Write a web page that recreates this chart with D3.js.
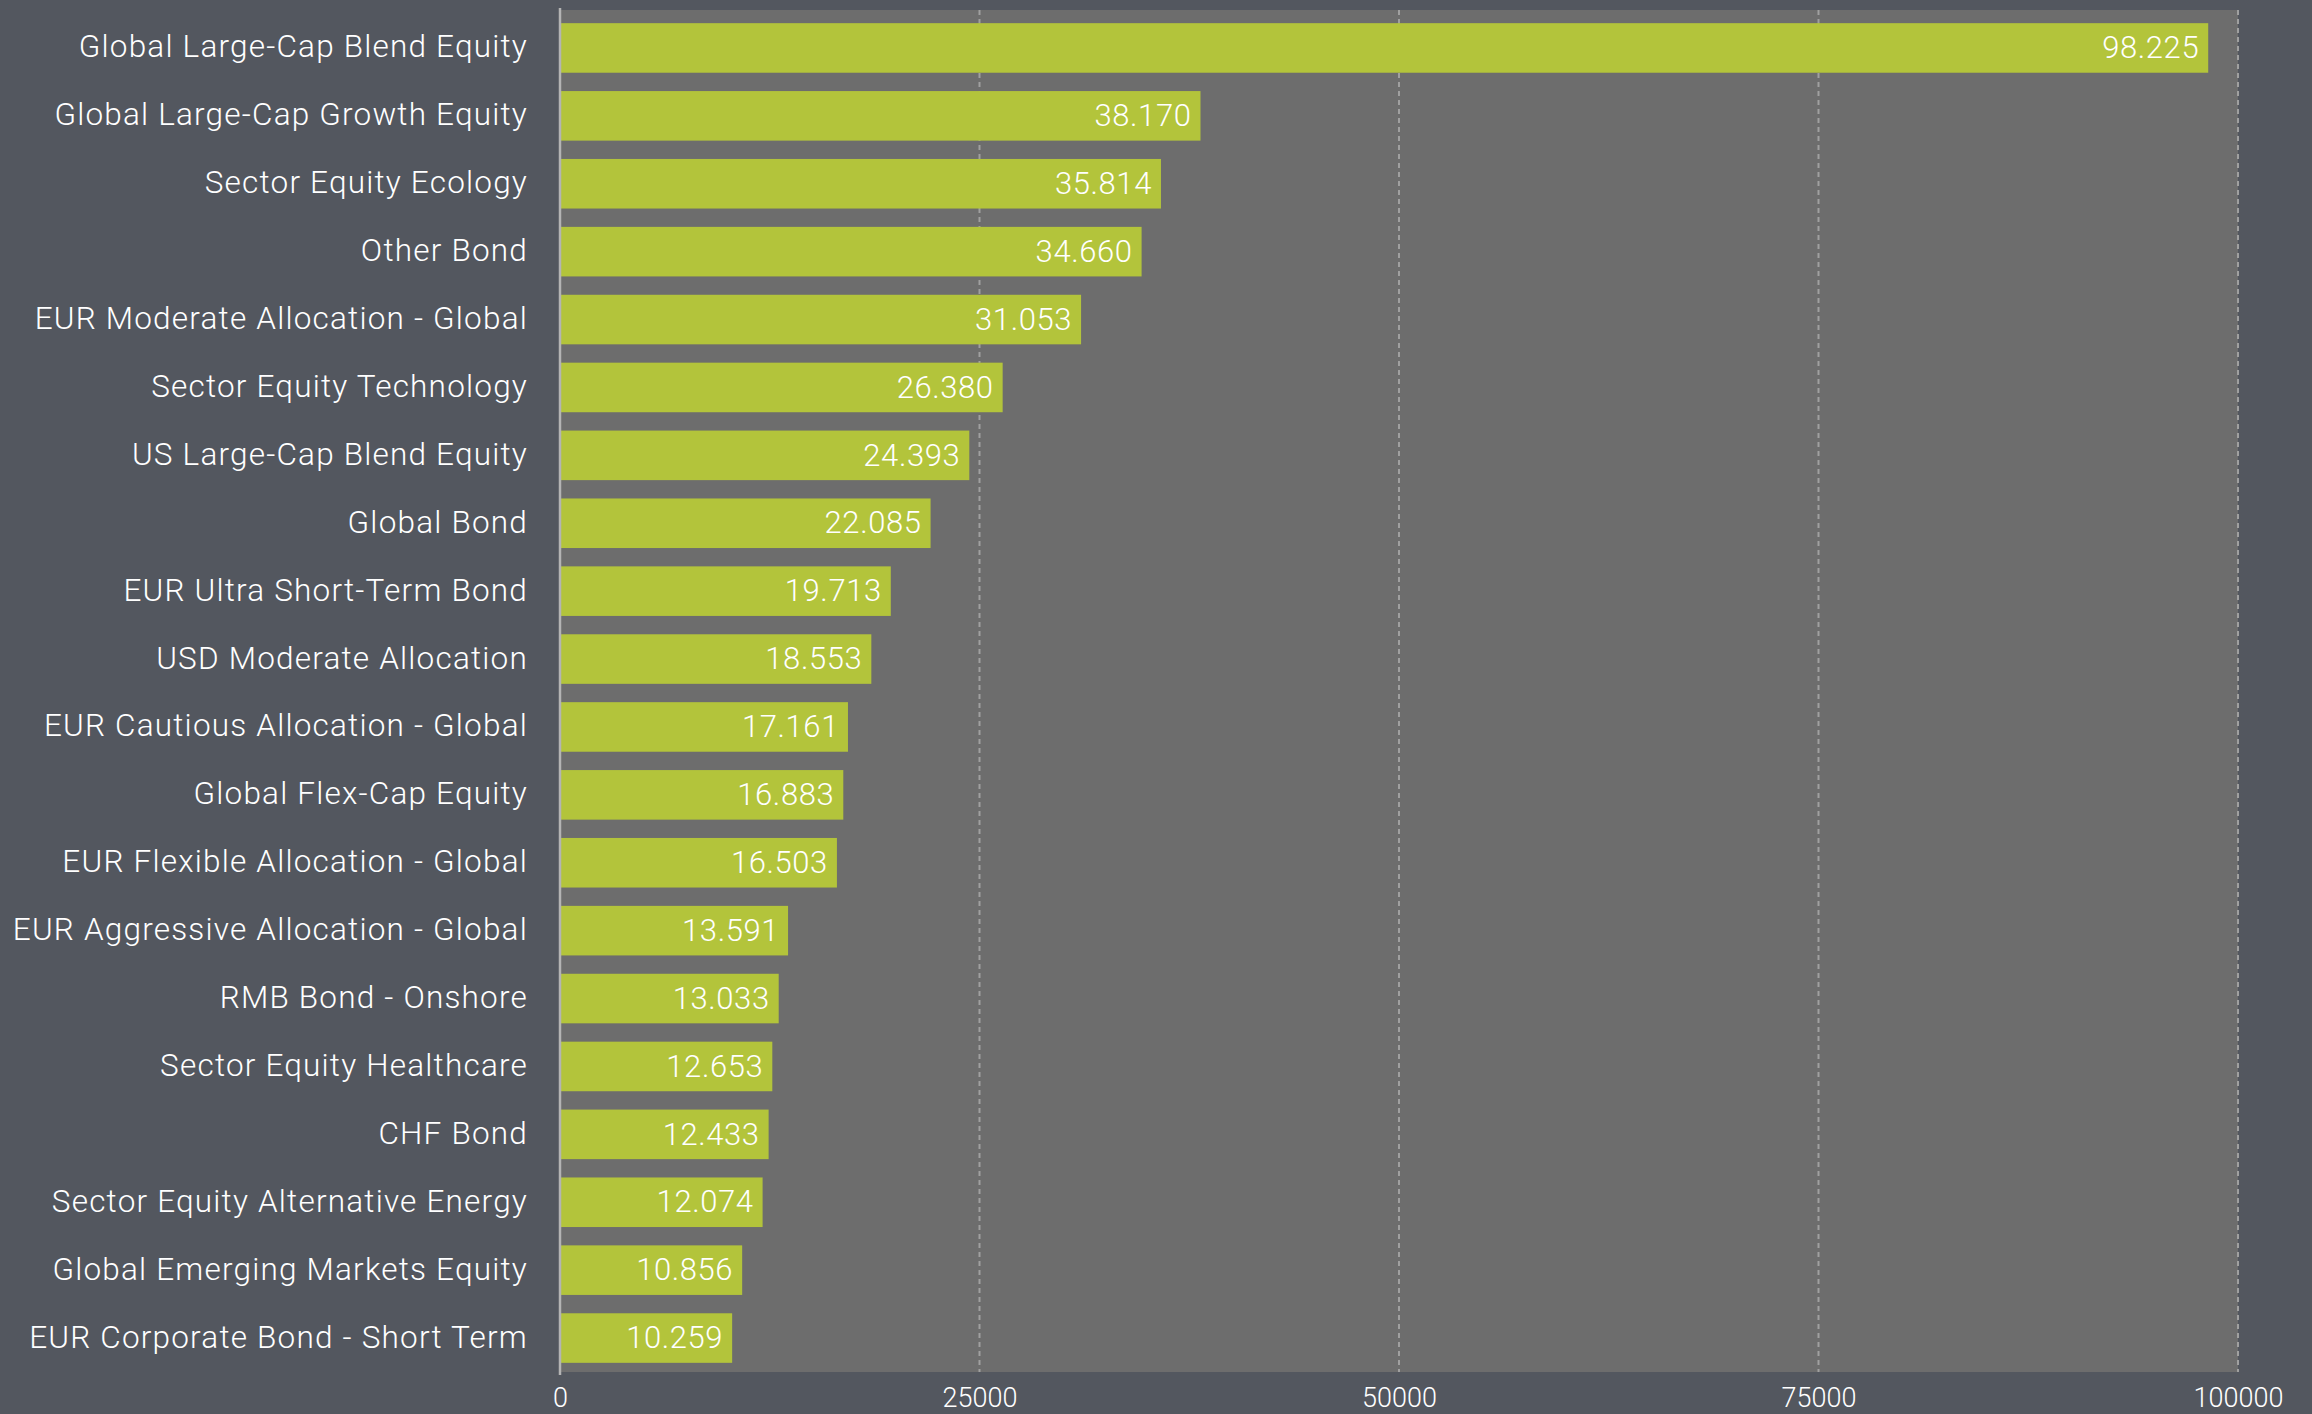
<!DOCTYPE html>
<html>
<head>
<meta charset="utf-8">
<script src="https://cdn.jsdelivr.net/npm/d3@7"></script>
<style>
  html, body { margin: 0; padding: 0; background: #53575f; }
  svg { display: block; }
  text { font-family: "Helvetica Neue", Roboto, "Liberation Sans", sans-serif; font-weight: 300; fill: #ffffff; }
</style>
</head>
<body>
<svg id="chart" width="2312" height="1414"></svg>
<script>
const categories = [
  "Global Large-Cap Blend Equity",
  "Global Large-Cap Growth Equity",
  "Sector Equity Ecology",
  "Other Bond",
  "EUR Moderate Allocation - Global",
  "Sector Equity Technology",
  "US Large-Cap Blend Equity",
  "Global Bond",
  "EUR Ultra Short-Term Bond",
  "USD Moderate Allocation",
  "EUR Cautious Allocation - Global",
  "Global Flex-Cap Equity",
  "EUR Flexible Allocation - Global",
  "EUR Aggressive Allocation - Global",
  "RMB Bond - Onshore",
  "Sector Equity Healthcare",
  "CHF Bond",
  "Sector Equity Alternative Energy",
  "Global Emerging Markets Equity",
  "EUR Corporate Bond - Short Term"
];
const values = [98225, 38170, 35814, 34660, 31053, 26380, 24393, 22085, 19713, 18553,
                17161, 16883, 16503, 13591, 13033, 12653, 12433, 12074, 10856, 10259];
const tickValues = [0, 25000, 50000, 75000, 100000];

const svg = d3.select("#chart");
const W = 2312, H = 1414;
const plot = { left: 560, right: 2238, top: 10, bottom: 1372 };

svg.append("rect").attr("width", W).attr("height", H).attr("fill", "#53575f");

const x = d3.scaleLinear().domain([0, 100000]).range([plot.left, plot.right]);
const y = d3.scaleBand().domain(categories).range([14, 1372]).paddingInner(0.27).paddingOuter(0.135);

const loc = d3.formatLocale({ decimal: ",", thousands: ".", grouping: [3], currency: ["", ""] });
const fmt = loc.format(",d");
const FONT = "'Helvetica Neue', Roboto, 'Liberation Sans', sans-serif";

// plot background
svg.append("rect")
  .attr("x", plot.left).attr("y", plot.top)
  .attr("width", plot.right - plot.left).attr("height", plot.bottom - plot.top)
  .attr("fill", "#6d6d6d");

// gridlines
svg.append("g").selectAll("line")
  .data(tickValues.filter(d => d > 0))
  .join("line")
  .attr("x1", d => x(d)).attr("x2", d => x(d))
  .attr("y1", plot.top).attr("y2", plot.bottom)
  .attr("stroke", "#a0a0a0").attr("stroke-width", 2)
  .attr("stroke-dasharray", "5,4");

// bars
svg.append("g").selectAll("rect")
  .data(values)
  .join("rect")
  .attr("x", x(0))
  .attr("y", (d, i) => y(categories[i]))
  .attr("width", d => x(d) - x(0))
  .attr("height", y.bandwidth())
  .attr("fill", "#b3c43b");

// value labels
svg.append("g").selectAll("text")
  .data(values)
  .join("text")
  .attr("x", d => x(d) - 9)
  .attr("y", (d, i) => y(categories[i]) + y.bandwidth() / 2)
  .attr("dy", "0.33em")
  .attr("text-anchor", "end")
  .attr("font-size", 31)
  .attr("letter-spacing", 0.6)
  .text(d => fmt(d));

// y axis
const yAxis = d3.axisLeft(y).tickSize(0).tickPadding(32);
const gy = svg.append("g").attr("transform", `translate(${plot.left},0)`).call(yAxis);
gy.select(".domain").remove();
gy.selectAll("text")
  .attr("font-size", 31.5)
  .attr("fill", "#ffffff")
  .attr("dy", "0.3em")
  .attr("letter-spacing", 1.2)
  .style("font-family", FONT)
  .style("font-weight", 300);

// axis line
svg.append("line")
  .attr("x1", plot.left).attr("x2", plot.left)
  .attr("y1", 8).attr("y2", 1375)
  .attr("stroke", "#b4b4b4").attr("stroke-width", 2.5);

// x axis
const xAxis = d3.axisBottom(x).tickValues(tickValues).tickSize(0).tickPadding(16).tickFormat(d3.format("d"));
const gx = svg.append("g").attr("transform", `translate(0,${plot.bottom})`).call(xAxis);
gx.select(".domain").remove();
gx.selectAll("text")
  .attr("font-size", 27)
  .attr("fill", "#ffffff")
  .style("font-family", FONT)
  .style("font-weight", 300);
</script>
</body>
</html>
